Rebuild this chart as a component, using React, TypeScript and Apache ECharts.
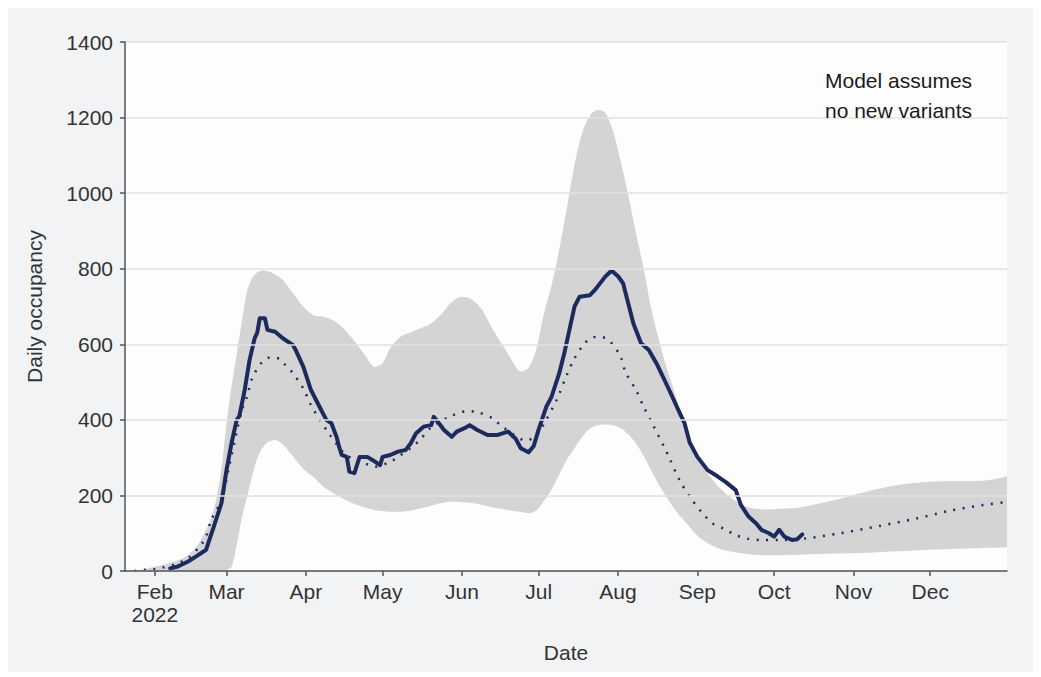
import React, { useEffect, useRef } from "react";
import * as echarts from "echarts";

// Uncertainty band (model interval)
const bandDates = [
  "2022-01-24", "2022-01-28", "2022-02-01", "2022-02-05", "2022-02-09", "2022-02-13", "2022-02-17", "2022-02-20",
  "2022-02-23", "2022-02-25", "2022-02-27", "2022-03-01", "2022-03-03", "2022-03-05", "2022-03-07", "2022-03-09",
  "2022-03-11", "2022-03-13", "2022-03-15", "2022-03-17", "2022-03-20", "2022-03-23", "2022-03-27", "2022-03-31",
  "2022-04-04", "2022-04-08", "2022-04-12", "2022-04-16", "2022-04-20", "2022-04-24", "2022-04-28", "2022-05-01",
  "2022-05-04", "2022-05-08", "2022-05-12", "2022-05-16", "2022-05-20", "2022-05-24", "2022-05-28", "2022-06-01",
  "2022-06-05", "2022-06-09", "2022-06-13", "2022-06-17", "2022-06-21", "2022-06-24", "2022-06-27", "2022-06-30",
  "2022-07-03", "2022-07-06", "2022-07-09", "2022-07-12", "2022-07-15", "2022-07-18", "2022-07-21", "2022-07-24",
  "2022-07-27", "2022-07-30", "2022-08-02", "2022-08-05", "2022-08-08", "2022-08-11", "2022-08-14", "2022-08-17",
  "2022-08-20", "2022-08-23", "2022-08-26", "2022-08-30", "2022-09-03", "2022-09-07", "2022-09-11", "2022-09-15",
  "2022-09-20", "2022-09-27", "2022-10-04", "2022-10-11", "2022-10-19", "2022-10-27", "2022-11-06", "2022-11-18",
  "2022-12-01", "2022-12-13", "2022-12-22", "2022-12-31",
];
const bandUpper = [
  0, 5, 12, 18, 26, 38, 62, 95,
  140, 190, 270, 390, 490, 575, 660, 740,
  775, 790, 795, 793, 785, 770, 735, 700,
  677, 673, 662, 640, 608, 572, 540, 550,
  590, 620, 632, 643, 655, 680, 712, 726,
  718, 690, 640, 597, 552, 528, 538, 585,
  680, 755, 850, 960, 1075, 1160, 1205, 1220,
  1212, 1165, 1085, 995, 895, 800, 695, 611,
  537, 475, 405, 335, 280, 241, 212, 190,
  170, 163, 165, 168, 179, 192, 210, 227,
  236, 238, 239, 250,
];
const bandLower = [
  0, 0, 0, 0, 0, 0, 0, 0,
  0, 0, 0, 2, 12, 70, 140, 195,
  250, 298, 325, 341, 347, 335, 303, 270,
  248, 222, 205, 190, 177, 168, 161, 159,
  157, 157, 160, 166, 173, 180, 183, 182,
  180, 175, 169, 164, 159, 156, 153, 160,
  185, 215, 255, 295, 325, 355, 377, 386,
  388, 386, 378, 362, 338, 305, 265, 228,
  195, 165, 140, 108, 82, 67, 56, 50,
  45, 42, 42, 43, 45, 46, 48, 52,
  56, 59, 61, 62,
];

// Model central estimate (dotted)
const modelDates = [
  "2022-01-24", "2022-01-28", "2022-02-01", "2022-02-04", "2022-02-09", "2022-02-14", "2022-02-19", "2022-02-21",
  "2022-02-23", "2022-02-27", "2022-03-02", "2022-03-05", "2022-03-07", "2022-03-09", "2022-03-11", "2022-03-15",
  "2022-03-18", "2022-03-22", "2022-03-24", "2022-03-27", "2022-03-31", "2022-04-03", "2022-04-06", "2022-04-10",
  "2022-04-16", "2022-04-20", "2022-04-24", "2022-04-28", "2022-05-04", "2022-05-07", "2022-05-12", "2022-05-16",
  "2022-05-20", "2022-05-27", "2022-06-03", "2022-06-06", "2022-06-13", "2022-06-16", "2022-06-21", "2022-06-26",
  "2022-06-30", "2022-07-03", "2022-07-08", "2022-07-12", "2022-07-15", "2022-07-19", "2022-07-22", "2022-07-25",
  "2022-07-29", "2022-08-02", "2022-08-04", "2022-08-08", "2022-08-11", "2022-08-15", "2022-08-19", "2022-08-21",
  "2022-08-25", "2022-08-29", "2022-09-03", "2022-09-07", "2022-09-11", "2022-09-16", "2022-09-21", "2022-09-27",
  "2022-10-03", "2022-10-13", "2022-10-27", "2022-11-11", "2022-11-25", "2022-12-09", "2022-12-22", "2022-12-31",
];
const modelValues = [
  0, 3, 5, 9, 18, 34, 69, 91,
  135, 188, 276, 369, 426, 461, 510, 554,
  565, 561, 545, 523, 483, 439, 405, 364,
  311, 295, 285, 276, 289, 302, 325, 350,
  380, 408, 423, 422, 404, 386, 362, 345,
  358, 389, 453, 519, 563, 603, 618, 620,
  607, 567, 525, 479, 435, 382, 329, 300,
  241, 197, 153, 126, 113, 95, 85, 82,
  82, 86, 100, 119, 138, 160, 175, 183,
];

// Observed daily occupancy (solid)
const obsDates = [
  "2022-02-07", "2022-02-10", "2022-02-14", "2022-02-17", "2022-02-19", "2022-02-21", "2022-02-24", "2022-02-27",
  "2022-03-01", "2022-03-03", "2022-03-05", "2022-03-06", "2022-03-08", "2022-03-10", "2022-03-12", "2022-03-13",
  "2022-03-14", "2022-03-16", "2022-03-17", "2022-03-20", "2022-03-23", "2022-03-27", "2022-03-28", "2022-03-31",
  "2022-04-03", "2022-04-07", "2022-04-09", "2022-04-11", "2022-04-13", "2022-04-14", "2022-04-15", "2022-04-17",
  "2022-04-18", "2022-04-20", "2022-04-22", "2022-04-25", "2022-04-27", "2022-04-30", "2022-05-01", "2022-05-04",
  "2022-05-07", "2022-05-10", "2022-05-12", "2022-05-14", "2022-05-17", "2022-05-20", "2022-05-21", "2022-05-23",
  "2022-05-25", "2022-05-28", "2022-05-30", "2022-06-02", "2022-06-04", "2022-06-07", "2022-06-11", "2022-06-15",
  "2022-06-19", "2022-06-22", "2022-06-24", "2022-06-27", "2022-06-29", "2022-07-01", "2022-07-04", "2022-07-06",
  "2022-07-09", "2022-07-11", "2022-07-13", "2022-07-15", "2022-07-17", "2022-07-21", "2022-07-23", "2022-07-27",
  "2022-07-29", "2022-07-30", "2022-08-01", "2022-08-03", "2022-08-05", "2022-08-07", "2022-08-10", "2022-08-13",
  "2022-08-16", "2022-08-21", "2022-08-25", "2022-08-27", "2022-08-29", "2022-09-01", "2022-09-05", "2022-09-09",
  "2022-09-12", "2022-09-16", "2022-09-18", "2022-09-21", "2022-09-24", "2022-09-26", "2022-09-29", "2022-10-01",
  "2022-10-03", "2022-10-05", "2022-10-08", "2022-10-10", "2022-10-12",
];
const obsValues = [
  7, 12, 25, 38, 47, 56, 117, 179,
  267, 340, 400, 410, 475, 558, 616, 630,
  669, 669, 638, 633, 616, 598, 585, 541,
  479, 426, 400, 391, 355, 329, 307, 302,
  263, 259, 302, 302, 294, 280, 302, 307,
  316, 320, 338, 364, 382, 386, 408, 391,
  373, 355, 369, 378, 386, 373, 360, 360,
  369, 350, 325, 314, 330, 375, 435, 461,
  523, 576, 638, 700, 726, 730, 744, 779,
  792, 792, 780, 761, 708, 655, 603, 585,
  550, 479, 420, 391, 340, 302, 267, 250,
  236, 214, 175, 144, 126, 109, 100, 91,
  109, 91, 82, 84, 97,
];

const monthNames = ["Jan", "Feb", "Mar", "Apr", "May", "Jun", "Jul", "Aug", "Sep", "Oct", "Nov", "Dec"];
const tickDates = [
  "2022-02-01", "2022-03-01", "2022-04-01", "2022-05-01", "2022-06-01", "2022-07-01",
  "2022-08-01", "2022-09-01", "2022-10-01", "2022-11-01", "2022-12-01",
];
const xMinDate = "2022-01-20";
const xMaxDate = "2022-12-31";
const yearLabel = "2022";
const annotation = "Model assumes\nno new variants";

const FONT = "'Liberation Sans', Arial, Helvetica, sans-serif";
const NAVY = "#1c2a5e";

const ts = (s: string) => {
  const [y, m, d] = s.split("-").map(Number);
  return Date.UTC(y, m - 1, d);
};

export default function App() {
  const ref = useRef<HTMLDivElement>(null);

  useEffect(() => {
    if (!ref.current) return;
    const chart = echarts.init(ref.current, undefined, { renderer: "svg", useUTC: true } as any);
    const monthTicks = tickDates.map(ts);
    const xMin = ts(xMinDate) + 8 * 3600 * 1000;
    const xMax = ts(xMaxDate);

    const lowerData = bandDates.map((d, i) => [ts(d), bandLower[i]]);
    const spanData = bandDates.map((d, i) => [ts(d), bandUpper[i] - bandLower[i]]);
    const modelData = modelDates.map((d, i) => [ts(d), modelValues[i]]);
    const obsData = obsDates.map((d, i) => [ts(d), obsValues[i]]);

    chart.setOption({
      animation: false,
      useUTC: true,
      backgroundColor: "#f2f3f5",
      textStyle: { fontFamily: FONT },
      grid: {
        left: 117,
        right: 26,
        top: 34,
        bottom: 101,
        show: true,
        backgroundColor: "#fdfdfd",
        borderWidth: 0,
      },
      xAxis: [
        {
          type: "time",
          min: xMin,
          max: xMax,
          z: 5,
          axisLine: { show: true, onZero: false, lineStyle: { color: "#555", width: 1.5 } },
          axisTick: { show: false },
          axisLabel: { show: false },
          splitLine: { show: false },
        },
        {
          type: "value",
          position: "bottom",
          min: xMin,
          max: xMax,
          z: 5,
          name: "Date",
          nameLocation: "middle",
          nameGap: 71,
          nameTextStyle: { fontSize: 21, color: "#333", fontFamily: FONT },
          axisLine: { show: false, onZero: false },
          axisTick: { show: true, length: 5, lineStyle: { color: "#555", width: 1.5 }, customValues: monthTicks },
          splitLine: { show: false },
          axisLabel: {
            customValues: monthTicks,
            fontSize: 21,
            color: "#333",
            margin: 9,
            lineHeight: 23,
            fontFamily: FONT,
            formatter: (v: number) => {
              const m = new Date(v).getUTCMonth();
              return m === 1 ? monthNames[m] + "\n" + yearLabel : monthNames[m];
            },
          },
        },
      ],
      yAxis: {
        type: "value",
        min: 0,
        max: 1400,
        interval: 200,
        z: 5,
        name: "Daily occupancy",
        nameLocation: "middle",
        nameGap: 80,
        nameTextStyle: { fontSize: 21, color: "#333", fontFamily: FONT },
        axisLine: { show: true, lineStyle: { color: "#555", width: 1.5 } },
        axisTick: { show: true, length: 5, lineStyle: { color: "#555", width: 1.5 } },
        axisLabel: { fontSize: 21, color: "#333", margin: 12, fontFamily: FONT, formatter: (v: number) => String(v) },
        splitLine: { show: true, lineStyle: { color: "#e2e2e2", width: 1.5 } },
      },
      graphic: [
        {
          type: "text",
          left: 817,
          top: 57,
          z: 10,
          style: {
            text: annotation,
            font: "21px " + FONT,
            lineHeight: 30,
            fill: "#1a1a1a",
          },
        },
      ],
      series: [
        {
          name: "lower",
          type: "line",
          stack: "band",
          data: lowerData,
          symbol: "none",
          smooth: 0.3,
          silent: true,
          lineStyle: { width: 0, opacity: 0 },
        },
        {
          name: "band",
          type: "line",
          stack: "band",
          data: spanData,
          symbol: "none",
          smooth: 0.3,
          silent: true,
          lineStyle: { width: 0, opacity: 0 },
          areaStyle: { color: "#d4d4d4", opacity: 1 },
        },
        {
          name: "model",
          type: "line",
          data: modelData,
          symbol: "none",
          smooth: 0.3,
          z: 3,
          lineStyle: { color: NAVY, width: 2.5, type: [2, 7.5], cap: "butt" },
        },
        {
          name: "observed",
          type: "line",
          data: obsData,
          symbol: "none",
          z: 4,
          lineStyle: { color: NAVY, width: 4, join: "round", cap: "round" },
        },
      ],
    });
    return () => chart.dispose();
  }, []);

  return <div ref={ref} style={{ width: 1025, height: 664 }} />;
}
